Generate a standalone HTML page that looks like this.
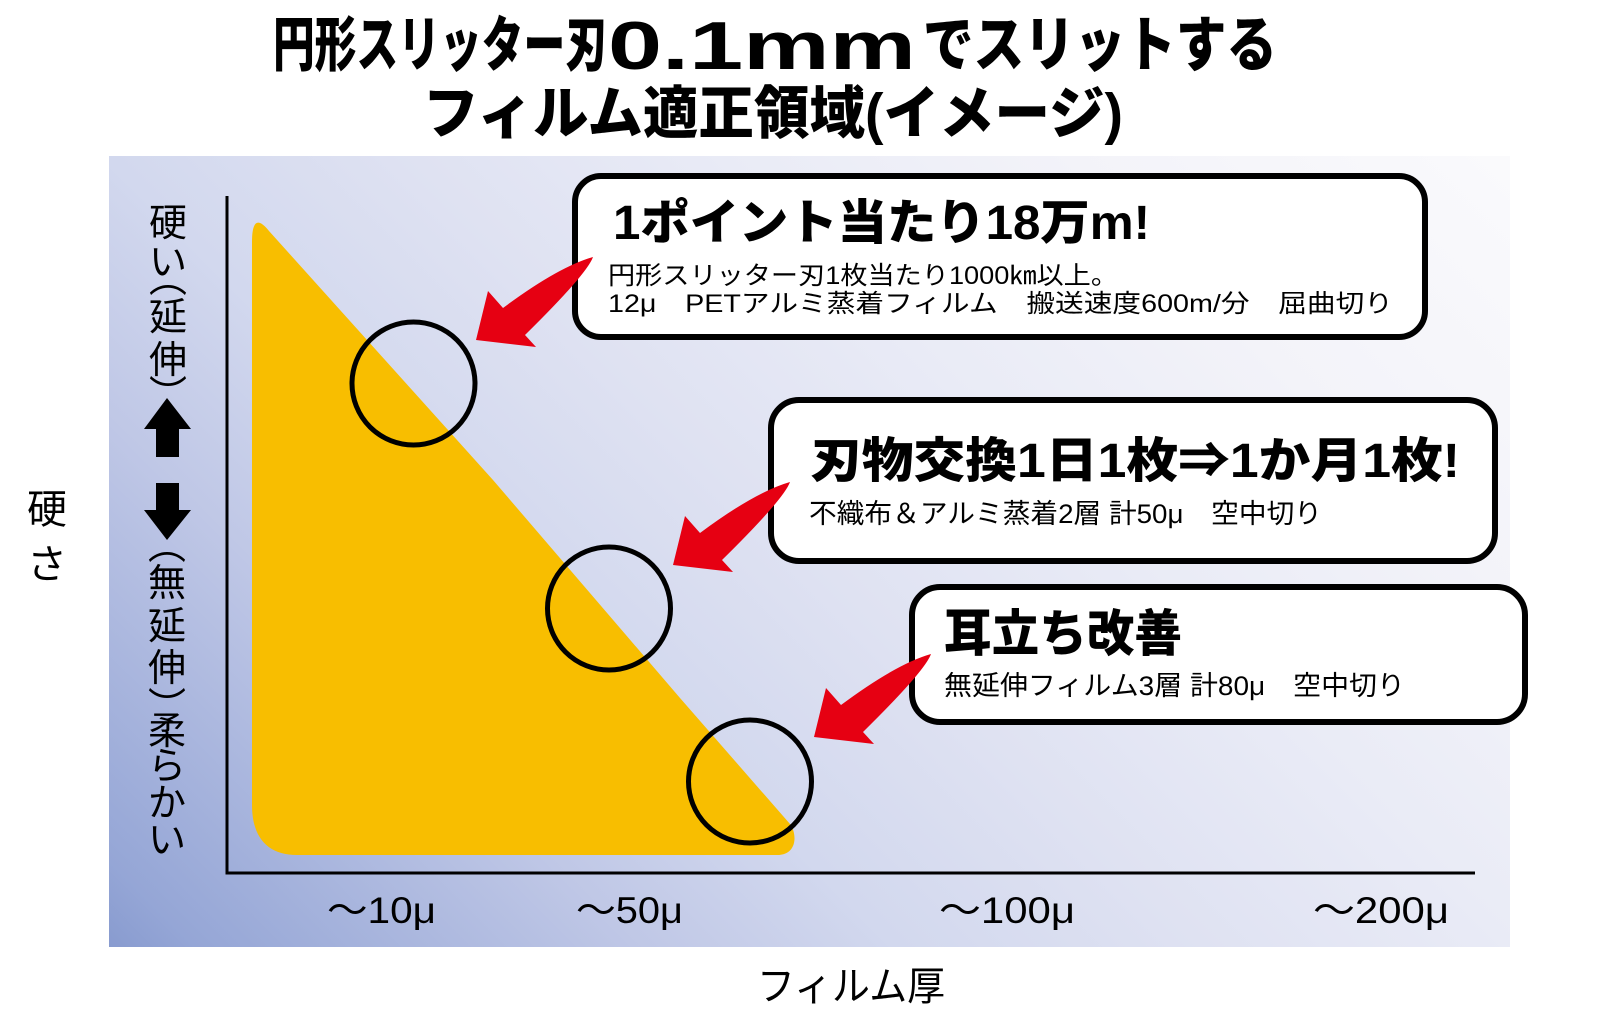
<!DOCTYPE html>
<html><head><meta charset="utf-8"><style>
html,body{margin:0;padding:0;background:#fff;}
svg{display:block;}
.t{font-family:"Liberation Sans","Noto Sans CJK JP",sans-serif;}
</style></head><body>
<svg width="1600" height="1019" viewBox="0 0 1600 1019" xmlns="http://www.w3.org/2000/svg">
<defs>
<linearGradient id="bg" gradientUnits="userSpaceOnUse" x1="109" y1="947" x2="1204" y2="-148">
<stop offset="0" stop-color="#889bcf"/>
<stop offset="0.04" stop-color="#95a6d6"/>
<stop offset="0.24" stop-color="#bfc7e6"/>
<stop offset="0.36" stop-color="#d2d8ee"/>
<stop offset="0.5" stop-color="#dfe2f2"/>
<stop offset="0.64" stop-color="#e9ebf6"/>
<stop offset="0.8" stop-color="#f3f3f9"/>
<stop offset="1" stop-color="#fafafc"/>
</linearGradient>
</defs>
<rect x="0" y="0" width="1600" height="1019" fill="#fff"/>

<!-- Title -->
<g class="t" font-weight="900" fill="#000">
<text x="273" y="66" font-size="60" textLength="334" lengthAdjust="spacingAndGlyphs">円形スリッター刃</text>
<text x="608" y="69" font-size="68" textLength="308" lengthAdjust="spacingAndGlyphs">0.1mm</text>
<text x="923" y="66" font-size="60" textLength="354" lengthAdjust="spacingAndGlyphs">でスリットする</text>
<text x="423" y="133" font-size="57" textLength="700" lengthAdjust="spacingAndGlyphs">フィルム適正領域(イメージ)</text>
</g>

<!-- Background panel -->
<rect x="109" y="156" width="1401" height="791" fill="url(#bg)"/>

<!-- Yellow region -->
<path d="M252,242 Q252,210 269,231 L493,480 L680,698 L790,824 C797,833 798,855 777,855 L297,855 C268,855 252,838 252,805 Z" fill="#f8be00"/>

<!-- Axes -->
<line x1="227" y1="196" x2="227" y2="874.5" stroke="#000" stroke-width="3"/>
<line x1="225.5" y1="873" x2="1475" y2="873" stroke="#000" stroke-width="3"/>

<!-- Circles -->
<g fill="none" stroke="#000" stroke-width="5">
<circle cx="413.5" cy="383.5" r="61.5"/>
<circle cx="609" cy="608.5" r="61.5"/>
<circle cx="750" cy="781.5" r="61.5"/>
</g>

<!-- Boxes -->
<g fill="#fff" stroke="#000" stroke-width="6">
<rect x="575" y="176" width="850" height="161" rx="26"/>
<rect x="771" y="400" width="724" height="161" rx="28"/>
<rect x="912" y="587" width="613" height="135" rx="28"/>
</g>

<!-- Box texts -->
<g class="t" fill="#000">
<text x="613" y="239" font-size="48" font-weight="900" textLength="537" lengthAdjust="spacingAndGlyphs">1ポイント当たり18万m!</text>
<text x="608" y="284" font-size="25" textLength="510" lengthAdjust="spacingAndGlyphs">円形スリッター刃1枚当たり1000㎞以上。</text>
<text x="608" y="312" font-size="25" textLength="785" lengthAdjust="spacingAndGlyphs">12μ　PETアルミ蒸着フィルム　搬送速度600m/分　屈曲切り</text>

<text x="810" y="477" font-size="48" font-weight="900" textLength="650" lengthAdjust="spacingAndGlyphs">刃物交換1日1枚⇒1か月1枚!</text>
<text x="809" y="523" font-size="27" textLength="513" lengthAdjust="spacingAndGlyphs">不織布＆アルミ蒸着2層 計50μ　空中切り</text>

<text x="944" y="651" font-size="50" font-weight="900" textLength="238" lengthAdjust="spacingAndGlyphs">耳立ち改善</text>
<text x="944" y="695" font-size="27" textLength="461" lengthAdjust="spacingAndGlyphs">無延伸フィルム3層 計80μ　空中切り</text>
</g>

<!-- Red arrows -->
<g fill="#e60012">
<path transform="translate(593,257)" d="M0,0 Q-35,10 -90,51 L-105,34 L-117,83 L-57,90 L-68,78 Q-6,17 0,0 Z"/>
<path transform="translate(790,482)" d="M0,0 Q-35,10 -90,51 L-105,34 L-117,83 L-57,90 L-68,78 Q-6,17 0,0 Z"/>
<path transform="translate(931,654)" d="M0,0 Q-35,10 -90,51 L-105,34 L-117,83 L-57,90 L-68,78 Q-6,17 0,0 Z"/>
</g>

<!-- Left vertical labels -->
<g class="t" fill="#000" font-size="38" text-anchor="middle">
<text x="168" y="236">硬</text>
<text x="168" y="275">い</text>
<text x="168" y="292">︵</text>
<text x="168" y="330">延</text>
<text x="168" y="373">伸</text>
<text x="168" y="408">︶</text>

<text x="167" y="559">︵</text>
<text x="167" y="596">無</text>
<text x="167" y="639">延</text>
<text x="167" y="681">伸</text>
<text x="167" y="720">︶</text>
<text x="167" y="744">柔</text>
<text x="167" y="779">ら</text>
<text x="167" y="816">か</text>
<text x="167" y="853">い</text>
</g>
<g fill="#000">
<path d="M167,398 L191,429 L179,429 L179,457 L156,457 L156,429 L144,429 Z"/>
<path d="M156,483 L179,483 L179,510 L191,510 L167,540 L144,510 L156,510 Z"/>
</g>

<g class="t" fill="#000" font-size="40" text-anchor="middle">
<text x="47" y="523">硬</text>
<text x="47" y="578">さ</text>
</g>

<!-- Tick labels -->
<g class="t" fill="#000" font-size="37">
<text x="327" y="923" textLength="109" lengthAdjust="spacingAndGlyphs">～10μ</text>
<text x="576" y="923" textLength="107" lengthAdjust="spacingAndGlyphs">～50μ</text>
<text x="939" y="923" textLength="136" lengthAdjust="spacingAndGlyphs">～100μ</text>
<text x="1313" y="923" textLength="136" lengthAdjust="spacingAndGlyphs">～200μ</text>
</g>

<text class="t" x="757" y="1000" font-size="40" fill="#000" textLength="188" lengthAdjust="spacingAndGlyphs">フィルム厚</text>
</svg>
</body></html>
